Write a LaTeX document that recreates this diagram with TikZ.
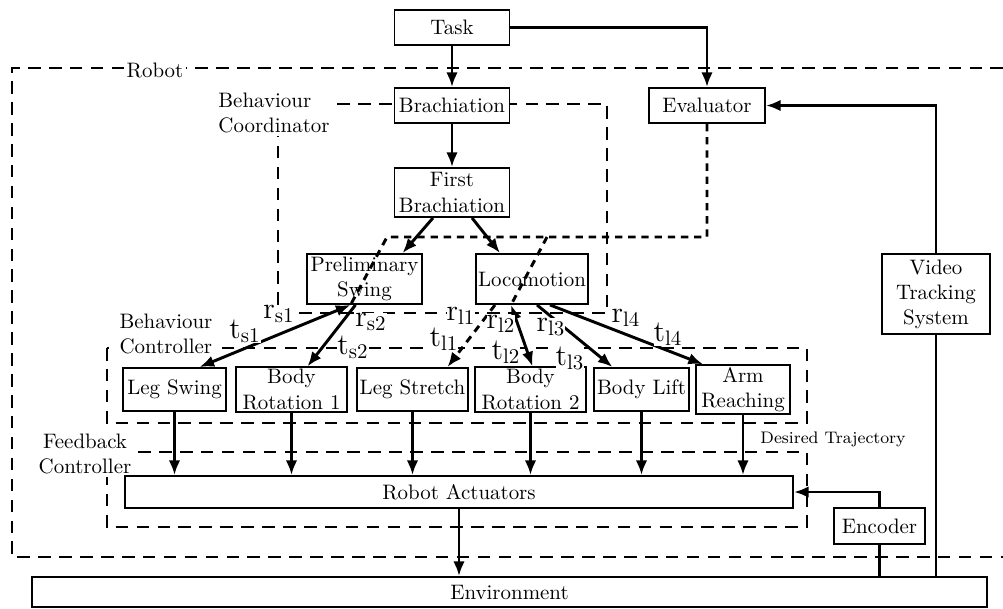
\documentclass[tikz,border=0pt]{standalone}
\usepackage{tikz}
\usetikzlibrary{arrows.meta,calc}
\newcommand{\pxu}{0.0168cm}
\tikzset{
  blk/.style n args={2}{draw,fill=white,line width=0.9pt,align=center,
    inner sep=1pt,minimum width=#1*\pxu,minimum height=#2*\pxu},
  group/.style={draw,line width=0.9pt,dash pattern=on 6pt off 4pt},
  tag/.style={fill=white,inner sep=1.5pt,align=left},
  gain/.style={fill=white,inner sep=0pt,font=\Large},
  signal/.style={draw,line width=1.4pt,>={Latex[length=7pt,width=5.5pt]},->},
  wire/.style={draw,line width=1.4pt},
  evalline/.style={draw,line width=1.4pt,dash pattern=on 3.5pt off 2.8pt,
    >={Latex[length=7pt,width=5.5pt]}}
}

\begin{document}
\begin{tikzpicture}[x=0.0168cm,y=-0.0168cm]
  \useasboundingbox (0,0) rectangle (1003,608);
  % dashed groups
  \draw[group] (1003,68) -- (12,68) -- (12,557) -- (1003,557);
  \draw[group] (278,104) rectangle (607,313);
  \draw[group] (107,348) rectangle (807,423);
  \draw[group] (107,452) rectangle (807,527);
  \node[tag] (robotlbl) at (155,70) {Robot};
  \node[tag] (coordlbl) at (274,113) {Behaviour\\Coordinator};
  \node[tag] (bctrllbl) at (166,334) {Behaviour\\Controller};
  \node[tag,align=center] (fctrllbl) at (85,454) {Feedback\\Controller};
  \node[font=\footnotesize] (traj) at (833,439) {Desired Trajectory};

  % blocks
  \node[blk={115}{35}] (task) at (452,27.5) {Task};
  \node[blk={115}{35}] (brach) at (452,105.5) {Brachiation};
  \node[blk={116}{35}] (eval) at (707,105.5) {Evaluator};
  \node[blk={115}{49}] (first) at (452,192.5) {First\\Brachiation};
  \node[blk={115}{50}] (prelim) at (364.5,279) {Preliminary\\Swing};
  \node[blk={112}{50}] (loco) at (532,279) {Locomotion};
  \node[blk={108}{80}] (vts) at (936,294) {Video\\Tracking\\System};
  \node[blk={103}{43}] (legswing) at (174.5,389.5) {Leg Swing};
  \node[blk={111}{43}] (rotone) at (291.5,389.5) {Body\\Rotation 1};
  \node[blk={111}{43}] (stretch) at (412.5,389.5) {Leg Stretch};
  \node[blk={111}{43}] (rottwo) at (530.5,389.5) {Body\\Rotation 2};
  \node[blk={95}{43}] (lift) at (641.5,389.5) {Body Lift};
  \node[blk={94}{43}] (reach) at (743,389.5) {Arm\\Reaching};
  \node[blk={668}{32}] (act) at (459,492) {Robot Actuators};
  \node[blk={91}{36}] (enc) at (879.5,526) {Encoder};
  \node[blk={955}{30}] (env) at (509.5,592) {Environment};

  % top of the hierarchy
  \draw[signal] (task) -- (brach);
  \draw[signal] (brach) -- (first);
  \draw[signal] (task.east) -| (eval.north);
  \draw[signal] ($(first.south)+(-19,0)$) -- ($(prelim.north)+(38,0)$);
  \draw[signal] ($(first.south)+(20,0)$) -- ($(loco.north)+(-32,0)$);

  % coordinator to controllers
  \coordinate (pa) at ($(prelim.south)+(-14,0)$);
  \coordinate (pb) at ($(prelim.south)+(-9,0)$);
  \coordinate (la) at ($(loco.south)+(-37,0)$);
  \coordinate (lb) at ($(loco.south)+(-21,0)$);
  \coordinate (lc) at ($(loco.south)+(5,0)$);
  \coordinate (ld) at ($(loco.south)+(18,0)$);
  \draw[signal,<->] (pa) -- ($(legswing.north)+(25,0)$);
  \draw[signal] (pb) -- ($(rotone.north)+(16,0)$);
  \draw[evalline,->] (la) -- ($(stretch.north)+(35,0)$);
  \draw[signal,<->] (lb) -- ($(rottwo.north)+(2,0)$);
  \draw[signal] (lc) -- ($(lift.north)+(-29,0)$);
  \draw[signal] (ld) -- ($(reach.north)+(-40,0)$);

  % desired trajectories
  \foreach \b in {legswing,rotone,stretch,rottwo,lift,reach}
    \draw[signal] (\b.south) -- (\b.south |- act.north);
  \draw[signal] (act.south) -- (act.south |- env.north);

  % feedback paths
  \draw[wire] (enc.south) -- (enc.south |- env.north);
  \draw[signal] (enc.north) |- (act.east);
  \draw[wire] (vts.south) -- (vts.south |- env.north);
  \draw[signal] (vts.north) |- (eval.east);

  % evaluation
  \coordinate (ej) at (707,237);
  \coordinate (ep) at (387,237);
  \coordinate (el) at (547,237);
  \draw[evalline] (eval.south) -- (ej) -- (ep) -- (pa);
  \draw[evalline] (el) -- (lb);

  % gains
  \node[gain] (rsone) at (279,314) {$\mathrm{r}_{\mathrm{s1}}$};
  \node[gain] (tsone) at (245,331) {$\mathrm{t}_{\mathrm{s1}}$};
  \node[gain] (rstwo) at (371,322) {$\mathrm{r}_{\mathrm{s2}}$};
  \node[gain] (tstwo) at (353,347) {$\mathrm{t}_{\mathrm{s2}}$};
  \node[gain] (rlone) at (461,316) {$\mathrm{r}_{\mathrm{l1}}$};
  \node[gain] (tlone) at (444,339) {$\mathrm{t}_{\mathrm{l1}}$};
  \node[gain] (rltwo) at (501,324) {$\mathrm{r}_{\mathrm{l2}}$};
  \node[gain] (tltwo) at (506,352) {$\mathrm{t}_{\mathrm{l2}}$};
  \node[gain] (rlthree) at (551,327) {$\mathrm{r}_{\mathrm{l3}}$};
  \node[gain] (tlthree) at (570,358) {$\mathrm{t}_{\mathrm{l3}}$};
  \node[gain] (rlfour) at (626,318) {$\mathrm{r}_{\mathrm{l4}}$};
  \node[gain] (tlfour) at (668,334) {$\mathrm{t}_{\mathrm{l4}}$};
\end{tikzpicture}
\end{document}
